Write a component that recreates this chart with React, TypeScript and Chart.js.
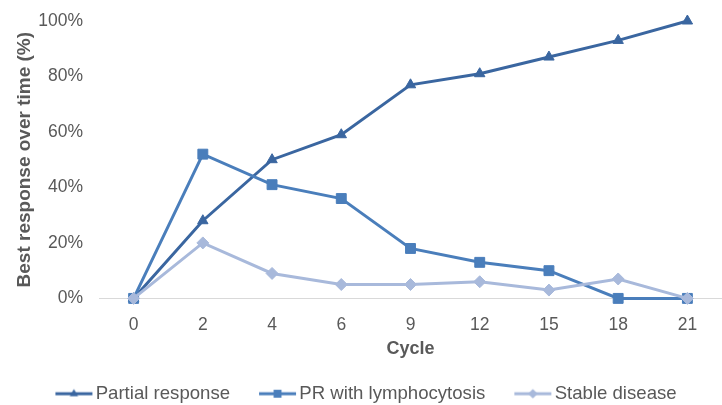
import React, { useEffect, useRef } from "react";
import { Chart, registerables } from "chart.js";

Chart.register(...registerables);

const cycles = ["0", "2", "4", "6", "9", "12", "15", "18", "21"];
const partialResponse = [0, 28, 50, 59, 77, 81, 87, 93, 100];
const prLymphocytosis = [0, 52, 41, 36, 18, 13, 10, 0, 0];
const stableDisease = [0, 20, 9, 5, 5, 6, 3, 7, 0];
const seriesNames = ["Partial response", "PR with lymphocytosis", "Stable disease"];
const seriesColors = ["#3a66a0", "#4a7ebb", "#a8b9db"];
const seriesMarkers = ["triangle", "rect", "rectRot"];
const markerRadius = [6, 7, 6];
const yTitle = "Best response over time (%)";
const xTitle = "Cycle";

const FONT = "'Liberation Sans', Arial, sans-serif";
const TEXT = "#595959";

function drawMarker(ctx: CanvasRenderingContext2D, style: string, x: number, y: number, r: number) {
  ctx.beginPath();
  if (style === "triangle") {
    ctx.moveTo(x, y - r);
    ctx.lineTo(x + r * 0.866, y + r * 0.5);
    ctx.lineTo(x - r * 0.866, y + r * 0.5);
    ctx.closePath();
  } else if (style === "rect") {
    const s = r * Math.SQRT1_2;
    ctx.rect(x - s, y - s, 2 * s, 2 * s);
  } else {
    ctx.moveTo(x, y - r);
    ctx.lineTo(x + r, y);
    ctx.lineTo(x, y + r);
    ctx.lineTo(x - r, y);
    ctx.closePath();
  }
  ctx.fill();
}

function legendIcon(color: string, style: string, r: number) {
  const c = document.createElement("canvas");
  c.width = 64;
  c.height = 16;
  const ctx = c.getContext("2d")!;
  ctx.strokeStyle = color;
  ctx.fillStyle = color;
  ctx.lineWidth = 3;
  ctx.beginPath();
  ctx.moveTo(26, 8);
  ctx.lineTo(63, 8);
  ctx.stroke();
  drawMarker(ctx, style, 44.5, 8, r * 0.8);
  return c;
}

const legendShift = {
  id: "legendShift",
  afterLayout(chart: any) {
    const l = chart.legend;
    if (l) {
      l.left -= 8;
      l.right -= 8;
    }
  },
};

export default function App() {
  const ref = useRef<HTMLCanvasElement>(null);

  useEffect(() => {
    const icons = seriesColors.map((c, i) => legendIcon(c, seriesMarkers[i], markerRadius[i]));
    const values = [partialResponse, prLymphocytosis, stableDisease];
    const chart = new Chart(ref.current!, {
      type: "line",
      data: {
        labels: cycles,
        datasets: values.map((v, i) => ({
          label: seriesNames[i],
          data: v,
          borderColor: seriesColors[i],
          backgroundColor: seriesColors[i],
          pointBackgroundColor: seriesColors[i],
          pointBorderColor: seriesColors[i],
          pointBorderWidth: 1,
          pointStyle: seriesMarkers[i] as any,
          pointRadius: markerRadius[i],
          borderWidth: 3,
          tension: 0,
          clip: false as any,
          order: 3 - i,
        })),
      },
      options: {
        responsive: false,
        animation: false,
        devicePixelRatio: 1,
        layout: { padding: { top: 21, right: 1, left: 0, bottom: 0 } },
        scales: {
          x: {
            offset: true,
            grid: { display: false },
            border: { display: true, color: "#d9d9d9", width: 1 },
            ticks: { color: TEXT, font: { family: FONT, size: 17.5 }, padding: 8 },
            title: {
              display: true,
              text: xTitle,
              color: TEXT,
              font: { family: FONT, size: 18, weight: "bold" },
              padding: { top: 0, bottom: 15 },
            },
            afterFit: (s: any) => {
              s.height = 76;
            },
          },
          y: {
            min: 0,
            max: 100,
            grid: { display: false },
            border: { display: false },
            ticks: {
              stepSize: 20,
              color: TEXT,
              font: { family: FONT, size: 17.5 },
              padding: 8,
              callback: (v: any) => v + "%",
            },
            title: {
              display: true,
              text: yTitle,
              color: TEXT,
              font: { family: FONT, size: 19, weight: "bold" },
              padding: { top: 13.5, bottom: 0 },
            },
            afterFit: (s: any) => {
              s.width = 99;
            },
          },
        },
        plugins: {
          tooltip: { enabled: false },
          legend: {
            position: "bottom",
            labels: {
              usePointStyle: true,
              pointStyleWidth: 50,
              padding: 10,
              color: TEXT,
              font: { family: FONT, size: 18.6 },
              sort: (a: any, b: any) => a.datasetIndex - b.datasetIndex,
              generateLabels: (ch: any) => {
                const items = Chart.defaults.plugins.legend.labels.generateLabels(ch);
                return items.map((it: any, i: number) => ({ ...it, pointStyle: icons[it.datasetIndex ?? i] }));
              },
            },
          },
        },
      } as any,
      plugins: [legendShift],
    });
    return () => chart.destroy();
  }, []);

  return (
    <div
      style={{
        position: "fixed",
        left: 0,
        top: 0,
        width: 722,
        height: 405,
        overflow: "hidden",
        background: "#fff",
      }}
    >
      <canvas ref={ref} width={730} height={413} style={{ display: "block" }} />
    </div>
  );
}
